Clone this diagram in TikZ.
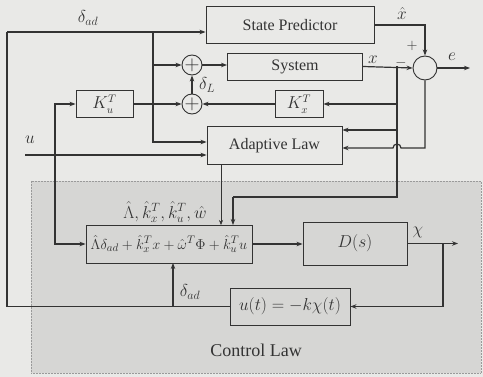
\documentclass[tikz,border=0pt]{standalone}
\usepackage{amsmath,amssymb}
\usepackage{fontspec}
\setmainfont{Liberation Serif}
\usepackage{tikz}
\usetikzlibrary{arrows.meta,positioning,calc,backgrounds}
\definecolor{paper}{HTML}{E9E9E7}
\definecolor{regionbg}{HTML}{D6D6D4}
\definecolor{ink}{HTML}{333333}
\definecolor{rim}{HTML}{9A9A9A}
\tikzset{
  blk/.style={draw=ink,line width=0.9pt,minimum height=27pt,inner sep=2pt,
              font=\fontsize{16}{19}\selectfont,text=ink},
  sumc/.style={draw=ink,line width=0.9pt,circle,minimum size=20pt,inner sep=0pt,
               font=\fontsize{20}{22}\selectfont,text=ink},
  wire/.style={draw=ink,line width=1.2pt},
  arr/.style={wire,-{Stealth[length=6pt,width=4.5pt]}},
  lbl/.style={text=ink,font=\fontsize{17}{20}\selectfont,inner sep=0pt},
}

\begin{document}
\begin{tikzpicture}[x=1pt,y=-1pt]
  \useasboundingbox[fill=paper] (0,0) rectangle (483,377);
  \fill[regionbg] (31,181) rectangle (481,373);
  \draw[rim,densely dotted,line width=0.5pt] (31,181) rectangle (481,373);

  % blocks
  \node[blk,minimum width=168pt,minimum height=37pt] (sp) at (290,25) {State Predictor};
  \node[blk,minimum width=135pt] (sys) at (295,66.5) {System};
  \node[blk,minimum width=48pt] (kx) at (299,104) {$K_x^T$};
  \node[blk,minimum width=135pt,minimum height=38pt] (al) at (274.5,145.5) {Adaptive Law};
  \node[blk,minimum width=57pt] (ku) at (104.5,104) {$K_u^T$};
  \node[sumc] (s1) at (192,65) {$+$};
  \node[sumc] (s2) at (192,104) {$+$};
  \node[sumc,minimum size=24pt] (err) at (425,68) {};
  \node[blk,minimum width=166pt,minimum height=38pt,font=\fontsize{15}{18}\selectfont] (ctl) at (169,244)
    {$\hat{\Lambda}\delta_{ad}+\hat{k}_x^T x+\hat{\omega}^T\Phi+\hat{k}_u^T u$};
  \node[blk,minimum width=104pt,minimum height=43pt,font=\fontsize{18}{21}\selectfont] (ds) at (355,243.5) {$D(s)$};
  \node[blk,minimum width=120pt,minimum height=37pt,font=\fontsize{17}{20}\selectfont] (ul) at (290,306.5) {$u(t)=-k\chi(t)$};

  % junctions
  \coordinate (bj) at (153,32);
  \coordinate (dl) at (7,306.5);
  \coordinate (dt) at (7,32);
  \coordinate (jx) at (397,66.5);
  \coordinate (jd) at (397,197);
  \coordinate (ju) at (55,155);

  % delta_ad loop
  \draw[wire] (ul.west) -- (dl) -- (dt);
  \draw[arr] (dt) -- (dt -| sp.west);
  \draw[arr] (173,306.5) -- (173,263);
  \draw[arr] (bj) |- ([yshift=3.5pt]al.west);
  \draw[arr] (bj |- s1) -- (s1.west);
  \draw[arr] (s1) -- (s1 -| sys.west);
  \draw[arr] (s2) -- (s1);
  \draw[arr] (ku.east) -- (s2.west);
  \draw[arr] (kx.west) -- (s2.east);

  % error path
  \draw[arr] (sys.east) -- (err.west);
  \draw[arr] (sp.east) -| (err.north);
  \draw[arr] (err.east) -- (470,68);
  \draw[wire] (jx) -- (jd) -- (233,197);
  \draw[arr] (233,197) -- (233,225);
  \draw[arr] (jx |- kx) -- (kx.east);
  \draw[arr] (jx |- 0,130) -- (al.east |- 0,130);
  \draw[arr] (err.south) -- (425,148) -- (401,148)
    arc[start angle=0,end angle=180,radius=4pt] -- (al.east |- 0,148);
  \draw[ink,line width=0.5pt,-{Stealth[length=5pt,width=4pt]}] (221,164.5) -- (221,225);

  % input u
  \draw[arr] (25,155) -- (al.west |- 0,155);
  \draw[arr] (ju) |- (ku.west);
  \draw[arr] (ju) |- (ctl.west);

  % control law loop
  \draw[arr] (ctl.east) -- (ctl.east -| ds.west);
  \draw[arr] (ds.east) -- (458,243.5);
  \draw[arr] (443,243.5) |- (ul.east);

  % labels
  \node[lbl] (l1) at (88,18) {$\delta_{ad}$};
  \node[lbl] (l2) at (207,85) {$\delta_L$};
  \node[lbl] (l3) at (402,14) {$\hat{x}$};
  \node[lbl] (l4) at (373,60) {$x$};
  \node[lbl,font=\fontsize{14}{16}\selectfont] (l5) at (412,46) {$+$};
  \node[lbl,font=\fontsize{14}{16}\selectfont] (l6) at (401,63) {$-$};
  \node[lbl] (l7) at (452,57) {$e$};
  \node[lbl] (l8) at (30,140) {$u$};
  \node[lbl] (l9) at (165,212) {$\hat{\Lambda},\hat{k}_x^T,\hat{k}_u^T,\hat{w}$};
  \node[lbl] (l10) at (190,292) {$\delta_{ad}$};
  \node[lbl] (l11) at (418,232) {$\chi$};
  \node[lbl,font=\fontsize{18}{21}\selectfont] (l12) at (256,350) {Control Law};
\end{tikzpicture}
\end{document}
